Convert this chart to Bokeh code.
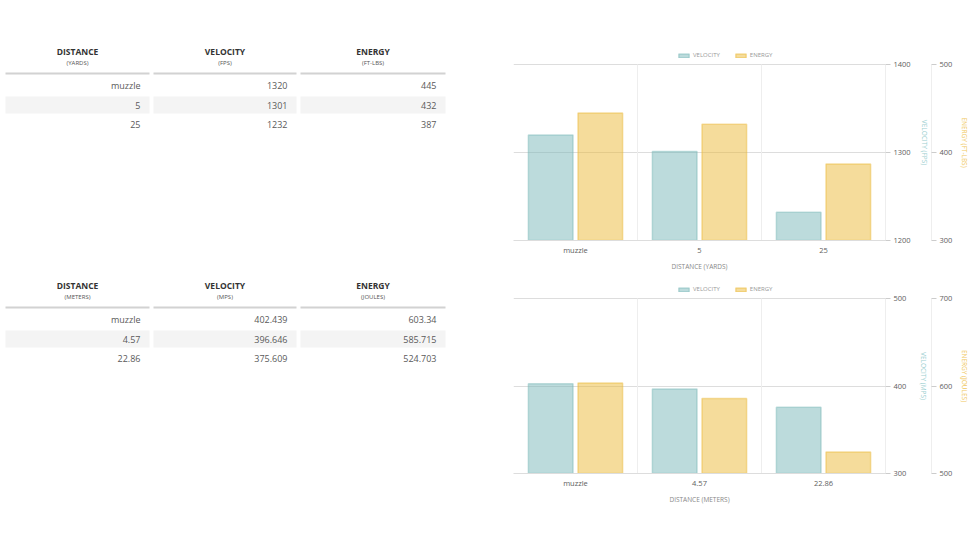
from bokeh.plotting import figure
from bokeh.models import (ColumnDataSource, FactorRange, Range1d, LinearAxis,
                          FixedTicker, Legend, LegendItem)
from bokeh.layouts import column, row
from bokeh.transform import dodge
from bokeh.core.properties import value
from bokeh.embed import file_html
from bokeh.resources import INLINE

# ---- ballistics data ----
yards = ["muzzle", "5", "25"]
velocity_fps = [1320, 1301, 1232]
energy_ftlbs = [445, 432, 387]

meters = ["muzzle", "4.57", "22.86"]
velocity_mps = [402.439, 396.646, 375.609]
energy_joules = [603.34, 585.715, 524.703]

headers = ["DISTANCE", "VELOCITY", "ENERGY"]
units_imperial = ["(YARDS)", "(FPS)", "(FT-LBS)"]
units_metric = ["(METERS)", "(MPS)", "(JOULES)"]

vel_ticks_imperial = [1200, 1300, 1400]
en_ticks_imperial = [300, 400, 500]
vel_ticks_metric = [300, 400, 500]
en_ticks_metric = [500, 600, 700]

FONT = "Open Sans"
TEAL = "#7ab8b9"
GOLD = "#ebb938"
H = 275          # height of each row
LEGEND_PX = 20   # room kept inside the frame, above the top tick, for the legend


def fmt(v):
    return ("%f" % v).rstrip("0").rstrip(".") if isinstance(v, float) else str(v)


def make_table(dist, vel, en, units, top, b_top, b_bottom):
    # the row aligns frames with the chart next to it, so use the same borders
    # and map data y straight onto pixels from the figure's top edge
    p = figure(width=450, height=H, x_range=Range1d(0, 450),
               y_range=Range1d(H - b_bottom, b_top),
               x_axis_location=None, y_axis_location=None,
               output_backend="svg", toolbar_location=None,
               min_border_left=0, min_border_right=0,
               min_border_top=b_top, min_border_bottom=b_bottom)
    p.grid.visible = False
    p.outline_line_color = None

    col_left = [5, 153, 300]
    col_right = [149, 296, 445]
    centers = [(a + b) / 2 for a, b in zip(col_left, col_right)]

    p.text(x=centers, y=[top] * 3, text=headers, text_font=value(FONT),
           text_font_size="8.5px", text_font_style="bold", text_color="#333333",
           text_align="center", text_baseline="middle")
    p.text(x=centers, y=[top + 11] * 3, text=units, text_font=value(FONT),
           text_font_size="6px", text_color="#555555",
           text_align="center", text_baseline="middle")
    p.segment(x0=col_left, x1=col_right, y0=[top + 22] * 3, y1=[top + 22] * 3,
              line_color="#d2d2d2", line_width=2)

    # shaded band behind the second row
    p.quad(left=col_left, right=col_right, top=[top + 45] * 3, bottom=[top + 62] * 3,
           fill_color="#f4f4f4", line_color=None)

    row_y = [top + 34 + 19.5 * i for i in range(len(dist))]
    cols = [[fmt(d) for d in dist], [fmt(v) for v in vel], [fmt(e) for e in en]]
    for xr, texts in zip(col_right, cols):
        p.text(x=[xr - 9] * len(texts), y=row_y, text=texts, text_font=value(FONT),
               text_font_size="9px", text_color="#5a5a5a",
               text_align="right", text_baseline="middle")
    return p


def make_chart(cats, vel, en, vel_ticks, en_ticks, vel_label, en_label, x_label,
               top, bottom, vel_label_standoff):
    frame_h = H - top - bottom
    stretch = frame_h / (frame_h - LEGEND_PX)
    vel_end = vel_ticks[0] + (vel_ticks[-1] - vel_ticks[0]) * stretch
    en_end = en_ticks[0] + (en_ticks[-1] - en_ticks[0]) * stretch

    src = ColumnDataSource(dict(dist=cats, vel=vel, en=en))
    p = figure(width=528, height=H,
               x_range=FactorRange(*cats, range_padding=0),
               y_range=Range1d(vel_ticks[0], vel_end),
               y_axis_location="right",
               output_backend="svg", toolbar_location=None,
               min_border_left=63, min_border_right=93,
               min_border_top=top, min_border_bottom=bottom)
    p.outline_line_color = None
    p.extra_y_ranges = {"en": Range1d(en_ticks[0], en_end)}

    # vertical separators between the distance groups
    p.segment(x0=[1, 2], x1=[1, 2], y0=[vel_ticks[0]] * 2, y1=[vel_ticks[-1]] * 2,
              line_color="#eeeeee", line_width=1)

    vb = p.vbar(x=dodge("dist", -0.2, range=p.x_range), top="vel", bottom=vel_ticks[0],
                width=0.36, source=src, fill_color=TEAL, fill_alpha=0.5,
                line_color=TEAL, line_alpha=0.45, line_width=1.5)
    eb = p.vbar(x=dodge("dist", 0.2, range=p.x_range), top="en", bottom=en_ticks[0],
                width=0.36, source=src, y_range_name="en", fill_color=GOLD,
                fill_alpha=0.5, line_color=GOLD, line_alpha=0.45, line_width=1.5)

    p.ygrid.ticker = FixedTicker(ticks=vel_ticks)
    p.ygrid.grid_line_color = "#dddddd"
    p.xgrid.grid_line_color = None

    # category axis
    xa = p.xaxis[0]
    xa.axis_line_color = "#dddddd"
    xa.major_tick_line_color = None
    xa.major_tick_out = 0
    xa.major_tick_in = 0
    xa.major_label_text_font = FONT
    xa.major_label_text_font_size = "7.5px"
    xa.major_label_text_color = "#606060"
    xa.major_label_standoff = 4
    xa.axis_label = x_label
    xa.axis_label_text_font = FONT
    xa.axis_label_text_font_size = "6.5px"
    xa.axis_label_text_font_style = "normal"
    xa.axis_label_text_color = "#888888"
    xa.axis_label_standoff = 4

    def style_y(ax, ticks, label, color, label_standoff):
        ax.ticker = FixedTicker(ticks=ticks)
        ax.bounds = (ticks[0], ticks[-1])
        ax.axis_line_color = "#eeeeee"
        ax.major_tick_line_color = "#cccccc"
        ax.major_tick_out = 5
        ax.major_tick_in = 0
        ax.minor_tick_line_color = None
        ax.major_label_standoff = 3
        ax.major_label_text_font = FONT
        ax.major_label_text_font_size = "7.5px"
        ax.major_label_text_color = "#606060"
        ax.axis_label = label
        ax.axis_label_text_font = FONT
        ax.axis_label_text_font_size = "6.5px"
        ax.axis_label_text_font_style = "normal"
        ax.axis_label_text_color = color
        ax.axis_label_standoff = label_standoff

    style_y(p.yaxis[0], vel_ticks, vel_label, "#9ccfd0", vel_label_standoff)
    ea = LinearAxis(y_range_name="en")
    style_y(ea, en_ticks, en_label, "#f0c860", 5)
    p.add_layout(ea, "right")

    # legend sits in the strip above the top tick line
    legend = Legend(items=[LegendItem(label="VELOCITY", renderers=[vb]),
                           LegendItem(label="ENERGY", renderers=[eb])],
                    orientation="horizontal",
                    location=(164, frame_h - LEGEND_PX + 5),
                    glyph_width=13, glyph_height=5, label_height=6,
                    label_standoff=3, spacing=14, padding=2, margin=0,
                    label_text_font=FONT, label_text_font_size="6px",
                    label_text_color="#999999", border_line_color=None,
                    background_fill_alpha=0)
    p.add_layout(legend, "center")
    return p


c1 = make_chart(yards, velocity_fps, energy_ftlbs, vel_ticks_imperial, en_ticks_imperial,
                "VELOCITY (FPS)", "ENERGY (FT-LBS)", "DISTANCE (YARDS)", 44, 35, 6)
t1 = make_table(yards, velocity_fps, energy_ftlbs, units_imperial, 51, 44, 35)
c2 = make_chart(meters, velocity_mps, energy_joules, vel_ticks_metric, en_ticks_metric,
                "VELOCITY (MPS)", "ENERGY (JOULES)", "DISTANCE (METERS)", 3, 77, 10)
t2 = make_table(meters, velocity_mps, energy_joules, units_metric, 10, 3, 77)

layout = column(row(t1, c1), row(t2, c2))
layout.spacing = 0
open("out.html", "w").write(file_html(layout, INLINE))
